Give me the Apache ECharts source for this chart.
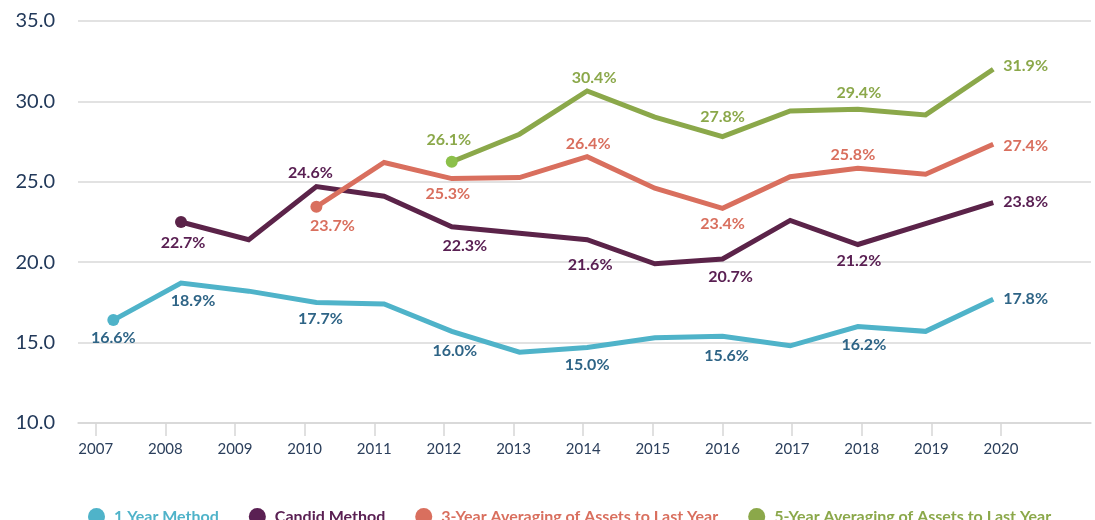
<!DOCTYPE html>
<html>
<head>
<meta charset="utf-8">
<script src="https://cdn.jsdelivr.net/npm/echarts@6/dist/echarts.min.js"></script>
<style>
html,body{margin:0;padding:0;background:#fff;}
#chart{width:1095px;height:520px;}
</style>
</head>
<body>
<div id="chart"></div>
<script>
// ---- data ----
var years = [2007, 2008, 2009, 2010, 2011, 2012, 2013, 2014, 2015, 2016, 2017, 2018, 2019, 2020];
var yTicks = [10, 15, 20, 25, 30, 35];
var seriesNames = ['1 Year Method', 'Candid Method', '3-Year Averaging of Assets to Last Year', '5-Year Averaging of Assets to Last Year'];

var oneYear     = [16.4, 18.7, 18.2, 17.5, 17.4, 15.7, 14.4, 14.7, 15.3, 15.4, 14.8, 16.0, 15.7, 17.7];
var candid      = [null, 22.5, 21.4, 24.7, 24.1, 22.2, 21.8, 21.4, 19.9, 20.2, 22.6, 21.1, 22.4, 23.7];
var threeYear   = [null, null, null, 23.45, 26.2, 25.2, 25.26, 26.56, 24.6, 23.35, 25.32, 25.84, 25.47, 27.33];
var fiveYear    = [null, null, null, null, null, 26.25, 27.96, 30.65, 29.02, 27.81, 29.41, 29.51, 29.16, 32.0];

var oneYearLabels   = ['16.6%', '18.9%', null, '17.7%', null, '16.0%', null, '15.0%', null, '15.6%', null, '16.2%', null, '17.8%'];
var candidLabels    = [null, '22.7%', null, '24.6%', null, '22.3%', null, '21.6%', null, '20.7%', null, '21.2%', null, '23.8%'];
var threeYearLabels = [null, null, null, '23.7%', null, '25.3%', null, '26.4%', null, '23.4%', null, '25.8%', null, '27.4%'];
var fiveYearLabels  = [null, null, null, null, null, '26.1%', null, '30.4%', null, '27.8%', null, '29.4%', null, '31.9%'];

// ---- styling / layout (not data) ----
var lineColors  = ['#4fb3c9', '#5b2349', '#d96f5e', '#8ba84a'];
var legendColors = ['#4fb3c9', '#5a2053', '#d96f5e', '#8ba84a'];
var labelColors = ['#2e6486', '#5a2053', '#d96f5e', '#8ba84a'];
var startDotColors = ['#4fb3c9', '#5b2349', '#d96f5e', '#8cc04a'];
// label centre offsets from the point [dx, dy]; 'R' = to the right of the point
var labelOffsets = [
  {2007: [0, 18], 2008: [12, 18], 2010: [4, 16], 2012: [3, 19], 2014: [0, 17], 2016: [4, 20], 2018: [6, 18], 2020: 'R0'},
  {2008: [2, 21], 2010: [-6, -14], 2012: [13, 19], 2014: [3, 25], 2016: [8, 18], 2018: [1, 16], 2020: 'R-1'},
  {2010: [16, 19], 2012: [-4, 15], 2014: [1, -13], 2016: [0, 16], 2018: [-5, -13], 2020: 'R2'},
  {2012: [-3, -22], 2014: [7, -13], 2016: [0, -20], 2018: [1, -16], 2020: 'R-3'}
];

var allValues = [oneYear, candid, threeYear, fiveYear];
var allLabels = [oneYearLabels, candidLabels, threeYearLabels, fiveYearLabels];

// axis geometry: visible tick axis and data axis
var tickAxisMin = 2006.746, tickAxisMax = 2021.292;
var dataAxisMin = 2006.478, dataAxisMax = 2021.444;

var labelFont = 'Lato, "Open Sans", sans-serif';

function buildSeries(si) {
  var vals = allValues[si], labs = allLabels[si];
  var data = [];
  var first = true;
  for (var i = 0; i < years.length; i++) {
    if (vals[i] === null) continue;
    var item = { value: [years[i], vals[i]], symbolSize: first ? 12 : 0 };
    if (first) item.itemStyle = { color: startDotColors[si] };
    first = false;
    var txt = labs[i];
    if (txt) {
      var off = labelOffsets[si][years[i]];
      var lab = { show: true, formatter: txt, color: labelColors[si] };
      if (typeof off === 'string') {
        lab.position = 'right';
        lab.distance = 10;
        lab.offset = [0, parseFloat(off.slice(1))];
      } else {
        lab.position = 'inside';
        lab.offset = off || [0, 18];
      }
      item.label = lab;
    } else {
      item.label = { show: false };
    }
    data.push(item);
  }
  return {
    name: seriesNames[si],
    type: 'line',
    xAxisIndex: 1,
    yAxisIndex: 0,
    data: data,
    showSymbol: true,
    symbol: 'circle',
    lineStyle: { color: lineColors[si], width: 5, join: 'miter' },
    itemStyle: { color: lineColors[si] },
    label: { fontFamily: labelFont, fontWeight: 'bold', fontSize: 16 },
    emphasis: { disabled: true },
    animation: false,
    z: 2 + si
  };
}

var chart = echarts.init(document.getElementById('chart'), null, { renderer: 'canvas' });
chart.setOption({
  animation: false,
  backgroundColor: '#ffffff',
  grid: { left: 78, right: 4, top: 21, bottom: 97, containLabel: false },
  legend: {
    left: 83,
    top: 503,
    width: 2000,
    icon: 'circle',
    itemWidth: 17,
    itemHeight: 17,
    itemGap: 30,
    selectedMode: false,
    data: seriesNames.map(function (n, i) {
      return { name: n, itemStyle: { color: legendColors[i] }, textStyle: { color: legendColors[i] } };
    }),
    textStyle: { fontFamily: labelFont, fontWeight: 'bold', fontSize: 16, padding: [0, 0, 0, 4] }
  },
  xAxis: [
    {
      type: 'value',
      min: tickAxisMin,
      max: tickAxisMax,
      axisLine: { show: true, lineStyle: { color: '#d6d6d6', width: 1.5 } },
      axisTick: { show: true, customValues: years, length: 13, lineStyle: { color: '#d6d6d6', width: 1.5 } },
      axisLabel: {
        customValues: years,
        formatter: function (v) { return String(Math.round(v)); },
        color: '#2b3f5c',
        fontFamily: labelFont,
        fontSize: 15,
        margin: 19
      },
      splitLine: { show: false }
    },
    {
      type: 'value',
      min: dataAxisMin,
      max: dataAxisMax,
      show: false,
      splitLine: { show: false }
    }
  ],
  yAxis: {
    type: 'value',
    min: yTicks[0],
    max: yTicks[yTicks.length - 1],
    interval: 5,
    axisLine: { show: false },
    axisTick: { show: false },
    axisLabel: {
      formatter: function (v) { return v.toFixed(1); },
      color: '#22395a',
      fontFamily: labelFont,
      fontSize: 20,
      margin: 23
    },
    splitLine: { lineStyle: { color: '#d9d9d9', width: 1.5 } }
  },
  series: [0, 1, 2, 3].map(buildSeries)
});
</script>
</body>
</html>
